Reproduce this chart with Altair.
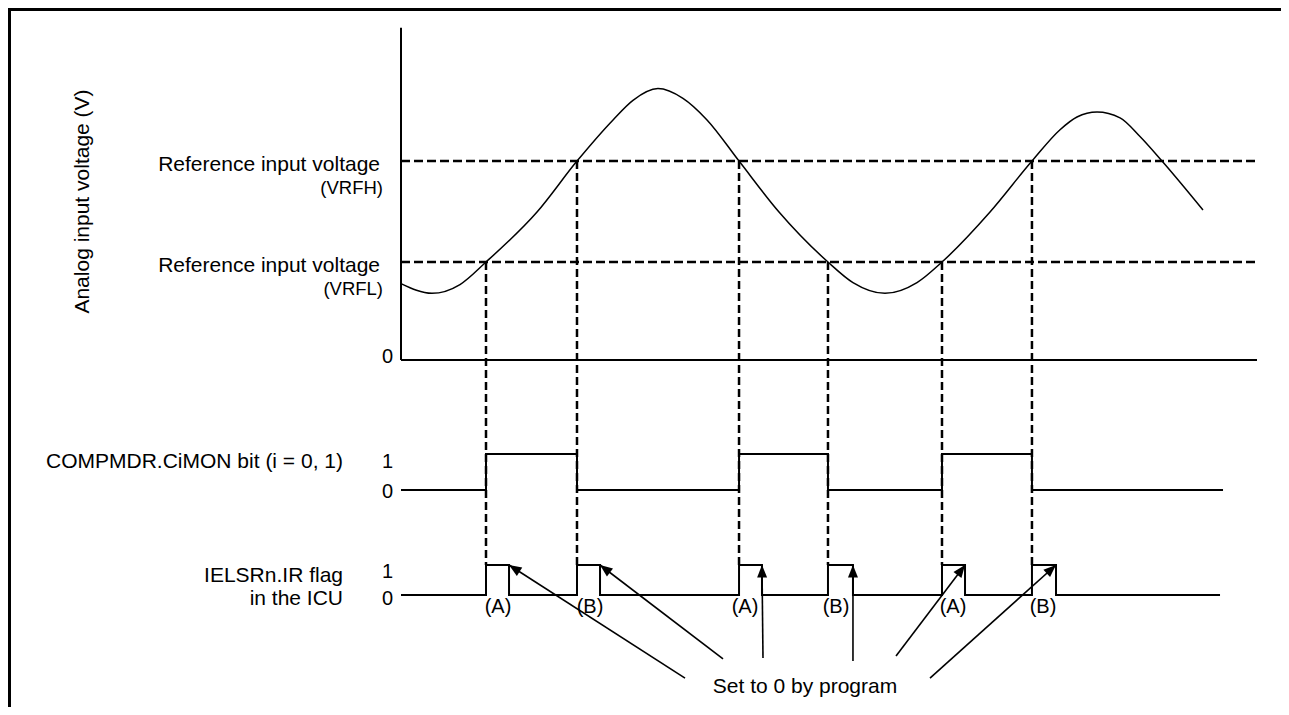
import math
import altair as alt
import pandas as pd

# ---------------- values ----------------
# analog input waveform: time (arbitrary units) and voltage (arbitrary units)
curve_t = [0, 3.62, 6.89, 9.93, 15.89, 20.56, 24.77, 27.10, 30.02, 32.94, 35.75, 39.49,
           44.16, 49.88, 52.80, 56.54, 60.28, 63.20, 68.81, 73.71, 76.99, 78.97, 81.31,
           84.00, 86.33, 88.90, 93.69]
curve_v = [0.78, 0.68, 0.77, 1.00, 1.51, 2.03, 2.45, 2.65, 2.77, 2.67, 2.45, 2.03,
           1.51, 1.00, 0.79, 0.68, 0.79, 1.00, 1.51, 2.03, 2.35, 2.48, 2.53,
           2.47, 2.28, 2.03, 1.53]
VRFH = 2.03
VRFL = 1.00
V_AXIS_TOP = 3.39
T_END = 100.0

# threshold crossings
cross_t = [9.93, 20.56, 39.49, 49.88, 63.20, 73.71]
cross_level = [VRFL, VRFH, VRFH, VRFL, VRFL, VRFH]
cross_tag = ["(A)", "(B)", "(A)", "(B)", "(A)", "(B)"]
tag_t = [11.33, 22.08, 40.19, 50.82, 64.49, 75.0]

# COMPMDR.CiMON bit
cmon_t = [0, 9.93, 20.56, 39.49, 49.88, 63.20, 73.71, 96.03]
cmon_v = [0, 1, 0, 1, 0, 1, 0, 0]

# IELSRn.IR flag: set at crossings, cleared by program
ir_clear_t = [12.62, 23.25, 42.17, 52.80, 65.89, 76.52]
ir_end_t = 95.68

# "Set to 0 by program" arrows: tail (time, IR-level units)
arrow_tail_t = [33.18, 37.62, 42.29, 52.80, 57.83, 61.80]
arrow_tail_lvl = [-2.77, -2.13, -2.10, -2.20, -2.03, -2.77]

# ---------------- layout / style constants ----------------
W, H = 1273, 699
X0, KX = 393.0, 8.56          # pixel of t=0, pixels per time unit
Y0_A, KA = 352.0, 98.0        # analog panel: pixel of 0 V, pixels per V
Y0_C, KC = 482.0, 36.0        # CMON panel
Y0_I, KI = 587.0, 30.0        # IR panel
FONT = "Liberation Sans"
BLACK = "#000000"

xscale = alt.Scale(domain=[-X0 / KX, (W - X0) / KX], nice=False, zero=False)


def yscale(y0, k):
    return alt.Scale(domain=[(y0 - H) / k, y0 / k], nice=False, zero=False)


SA, SC, SI = yscale(Y0_A, KA), yscale(Y0_C, KC), yscale(Y0_I, KI)


def X(f):
    return alt.X(f, type="quantitative", scale=xscale, axis=None)


def X2(f):
    return alt.X2(f)


def Y(f, s):
    return alt.Y(f, type="quantitative", scale=s, axis=None)


one = alt.Data(values=[{}])

# ---------------- tables ----------------
curve_df = pd.DataFrame({"t": curve_t, "v": curve_v})
thr_df = pd.DataFrame({"t0": [0.0, 0.0], "t1": [T_END, T_END], "v": [VRFH, VRFL]})
vert_df = pd.DataFrame({"t": cross_t, "v": cross_level})
cmon_df = pd.DataFrame({"t": cmon_t, "v": cmon_v})

ir_t, ir_v = [0.0], [0]
for c, e in zip(cross_t, ir_clear_t):
    ir_t += [c, e]
    ir_v += [1, 0]
ir_t.append(ir_end_t)
ir_v.append(0)
ir_df = pd.DataFrame({"t": ir_t, "v": ir_v})

tag_df = pd.DataFrame({"t": tag_t, "v": [0] * len(tag_t), "txt": cross_tag})

angles = []
for tt, tl, et in zip(arrow_tail_t, arrow_tail_lvl, ir_clear_t):
    dx = (et - tt) * KX
    dy = -(1 - tl) * KI
    angles.append(math.degrees(math.atan2(dx, -dy)) % 360)
arrow_df = pd.DataFrame({"t0": arrow_tail_t, "l0": arrow_tail_lvl,
                         "t1": ir_clear_t, "l1": [1] * 6, "ang": angles})

IR1_CY = Y0_I - KI  # pixel of IR level 1

layers = []

# frame (left and top edges)
layers.append(alt.Chart(one).mark_rule(color=BLACK, strokeWidth=3).encode(
    x=alt.value(0), x2=alt.value(W), y=alt.value(1.5)))
layers.append(alt.Chart(one).mark_rule(color=BLACK, strokeWidth=3).encode(
    x=alt.value(1.5), y=alt.value(0), y2=alt.value(H)))

# threshold dashed lines
layers.append(alt.Chart(thr_df).mark_rule(color=BLACK, strokeWidth=2.5, strokeDash=[9, 4]).encode(
    x=X("t0"), x2=X2("t1"), y=Y("v", SA)))
# vertical dashed lines
layers.append(alt.Chart(vert_df).mark_rule(color=BLACK, strokeWidth=2.5, strokeDash=[8, 4]).encode(
    x=X("t"), y=Y("v", SA), y2=alt.value(IR1_CY)))

# axes of the analog panel
layers.append(alt.Chart(one).mark_rule(color=BLACK, strokeWidth=2).encode(
    x=alt.X("a:Q", scale=xscale, axis=None),
    y=Y("b", SA), y2=alt.Y2("c:Q")).transform_calculate(a="0", b="0", c=str(V_AXIS_TOP)))
layers.append(alt.Chart(one).mark_rule(color=BLACK, strokeWidth=1.8).encode(
    x=alt.X("a:Q", scale=xscale, axis=None), x2=alt.X2("c:Q"),
    y=Y("b", SA)).transform_calculate(a="0", b="0", c=str(T_END)))

# analog waveform
layers.append(alt.Chart(curve_df).mark_line(color=BLACK, strokeWidth=1.5, interpolate="monotone").encode(
    x=X("t"), y=Y("v", SA)))

# digital signals
layers.append(alt.Chart(cmon_df).mark_line(color=BLACK, strokeWidth=2, interpolate="step-after").encode(
    x=X("t"), y=Y("v", SC)))
layers.append(alt.Chart(ir_df).mark_line(color=BLACK, strokeWidth=2, interpolate="step-after").encode(
    x=X("t"), y=Y("v", SI)))

# arrows
layers.append(alt.Chart(arrow_df).mark_rule(color=BLACK, strokeWidth=1.6).encode(
    x=X("t0"), y=Y("l0", SI), x2=X2("t1"), y2=alt.Y2("l1")))
layers.append(alt.Chart(arrow_df).mark_point(
    shape="M0,0L-0.4,1L0.4,1Z", filled=True, color=BLACK, opacity=1, size=625, strokeWidth=0).encode(
    x=X("t1"), y=Y("l1", SI), angle=alt.Angle("ang:Q", scale=None)))

# ---------------- texts ----------------
def txt(text, x, y, size=21, align="right", baseline="alphabetic", angle=0):
    kw = dict(text=text, font=FONT, fontSize=size, color=BLACK, align=align, baseline=baseline)
    if angle:
        kw["angle"] = angle
    return alt.Chart(one).mark_text(**kw).encode(x=alt.value(x), y=alt.value(y))


def level_text(text, v, s, dy, x=385, size=20):
    return alt.Chart(pd.DataFrame({"v": [v]})).mark_text(
        text=text, font=FONT, fontSize=size, color=BLACK, align="right",
        baseline="alphabetic", dy=dy).encode(x=alt.value(x), y=Y("v", s))


layers.append(txt("Analog input voltage (V)", 75, 193.5, size=21, align="center",
                  baseline="middle", angle=270))
layers.append(level_text("Reference input voltage", VRFH, SA, 10, x=372, size=21))
layers.append(level_text("(VRFH)", VRFH, SA, 33, x=375, size=18.5))
layers.append(level_text("Reference input voltage", VRFL, SA, 9.5, x=372, size=21))
layers.append(level_text("(VRFL)", VRFL, SA, 33, x=375, size=18.5))
layers.append(level_text("0", 0, SA, 3))

layers.append(txt("COMPMDR.CiMON bit (i = 0, 1)", 335, 460))
layers.append(level_text("1", 1, SC, 14))
layers.append(level_text("0", 0, SC, 8))

layers.append(txt("IELSRn.IR flag", 335, 574))
layers.append(txt("in the ICU", 335, 597))
layers.append(level_text("1", 1, SI, 13))
layers.append(level_text("0", 0, SI, 10))

layers.append(alt.Chart(tag_df).mark_text(font=FONT, fontSize=20, color=BLACK, align="center",
                                          baseline="alphabetic", dy=18).encode(
    x=X("t"), y=Y("v", SI), text="txt:N"))

layers.append(txt("Set to 0 by program", 797, 685, align="center"))

chart = alt.layer(*layers).resolve_scale(y="independent").properties(
    width=W, height=H, autosize=alt.AutoSizeParams(type="none"), padding=0,
    background="white"
).configure_view(stroke=None)

chart.save("out.html", embed_options={"renderer": "svg", "actions": False})
